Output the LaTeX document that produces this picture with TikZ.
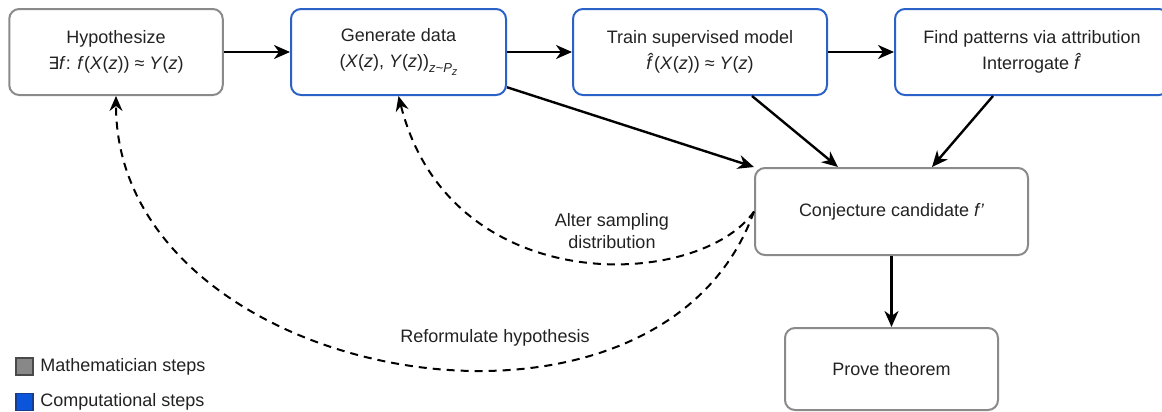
\documentclass[tikz,border=0pt]{standalone}
\usepackage{fontspec}
\setmainfont{Liberation Sans}
\newfontfamily\dv{DejaVu Sans}
\usetikzlibrary{arrows.meta,calc}
\definecolor{mgray}{HTML}{8A8A8A}
\definecolor{cblue}{HTML}{2A62C8}
\definecolor{txt}{HTML}{222222}
\definecolor{lgray}{HTML}{888888}
\definecolor{lgrayd}{HTML}{4A4A4A}
\definecolor{lblue}{HTML}{0A55DA}
\definecolor{lblued}{HTML}{1A3C8C}
\begin{document}
\begin{tikzpicture}[x=0.5pt,y=-0.5pt,
  box/.style={draw, rounded corners=5pt, line width=1pt, align=center, inner sep=0pt,
    font=\fontsize{9}{13}\selectfont, text=txt},
  mathbox/.style={box, draw=mgray},
  compbox/.style={box, draw=cblue},
  conn/.style={line width=1.2pt, draw=black, -{Stealth[length=8pt,width=7pt,inset=2.5pt]}},
  fb/.style={line width=1pt, draw=black, dash pattern=on 4pt off 3pt,
    -{Stealth[length=7.5pt,width=6.5pt,inset=2.5pt]}},
  lbl/.style={font=\fontsize{9}{11}\selectfont, text=txt, align=center, inner sep=1pt},
  legsq/.style={minimum size=8.5pt, inner sep=0pt, line width=0.6pt}
]
\useasboundingbox (0,0) rectangle (1162,412);

\node[mathbox, minimum width=106.75pt, minimum height=43pt] (hyp) at (116,52)
  {Hypothesize\\{\dv\fontsize{8.5}{13}\selectfont ∃}\textit{f}: \textit{f}(\textit{X}(\textit{z})) ≈ \textit{Y}(\textit{z})};
\node[compbox, minimum width=107.5pt, minimum height=43pt] (gen) at (398.5,52)
  {Generate data\\(\textit{X}(\textit{z}), \textit{Y}(\textit{z}))\raisebox{-0.55ex}{\fontsize{6.5}{7}\selectfont\itshape z\textasciitilde P\raisebox{-0.45ex}{\fontsize{5.5}{6}\selectfont z}}};
\node[compbox, minimum width=127pt, minimum height=43pt] (train) at (700,52)
  {Train supervised model\\\textit{\^{f}}(\textit{X}(\textit{z})) ≈ \textit{Y}(\textit{z})};
\node[compbox, minimum width=137pt, minimum height=43pt] (find) at (1032,52)
  {Find patterns via attribution\\Interrogate \textit{\^{f}}};
\node[mathbox, minimum width=136.5pt, minimum height=43.5pt] (conj) at (891.5,211.5)
  {Conjecture candidate \textit{f'}};
\node[mathbox, minimum width=106.5pt, minimum height=41pt] (prove) at (891.5,369)
  {Prove theorem};

\draw[conn] (hyp) -- (gen);
\draw[conn] (gen) -- (train);
\draw[conn] (train) -- (find);
\draw[conn] (gen.-18.5) -- (conj.north west);
\draw[conn] ($(train.south)+(52,0)$) -- ($(conj.north)+(-53.5,0)$);
\draw[conn] ($(find.south)+(-39,0)$) -- ($(conj.north)+(40.5,0)$);
\draw[conn] (conj) -- (prove);

\draw[fb] (conj.west) .. controls +(-55,78.5) and +(51.5,205) .. (gen.south);
\draw[fb] (conj.west) .. controls +(-97,270.5) and +(0,287) .. (hyp.south);

\node[lbl] (alt) at (612,231) {Alter sampling\\distribution};
\node[lbl] (ref) at (495,338) {Reformulate hypothesis};

\node[legsq, draw=lgrayd, fill=lgray] (lg1) at (24.5,366.5) {};
\node[lbl, anchor=west] (lt1) at (38,367) {Mathematician steps};
\node[legsq, draw=lblued, fill=lblue] (lg2) at (24.5,402) {};
\node[lbl, anchor=west] (lt2) at (38,402) {Computational steps};
\end{tikzpicture}
\end{document}
